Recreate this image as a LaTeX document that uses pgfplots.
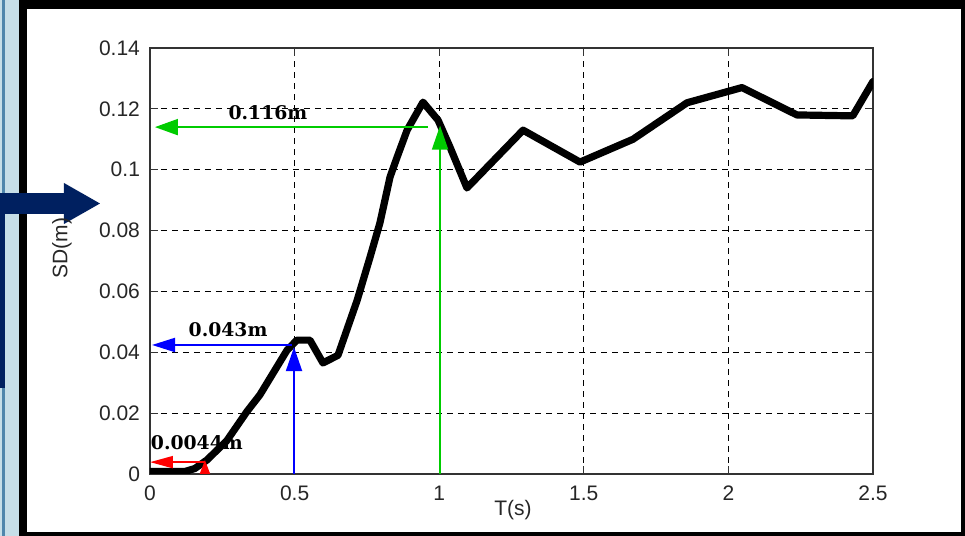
\documentclass[border=0pt]{standalone}
\usepackage{pgfplots}
\pgfplotsset{compat=1.18}
\usepackage{fontspec}
\setmainfont{Liberation Sans}
\newfontfamily\lblfont{DejaVu Serif}
\usetikzlibrary{arrows.meta}
\definecolor{navy}{HTML}{002060}
\definecolor{stripblue}{HTML}{C6DEE8}
\definecolor{stripdark}{HTML}{4F86AC}
\definecolor{mgreen}{RGB}{0,204,0}
\definecolor{mblue}{RGB}{0,0,255}
\definecolor{mred}{RGB}{255,0,0}
\begin{document}
\begin{tikzpicture}
% background frame
\fill[stripblue] (-75pt,-31pt) rectangle (-65.5pt,237pt);
\fill[stripdark] (-74pt,-31pt) rectangle (-72.5pt,237pt);
\fill[black] (-65.5pt,-31pt) rectangle (407.5pt,237pt);
\fill[white] (-61.5pt,-29pt) rectangle (405.5pt,232.5pt);
\fill[navy] (-75pt,130pt) rectangle (-43pt,140.5pt);
\fill[navy] (-43pt,145.5pt) -- (-25pt,135.25pt) -- (-43pt,125pt) -- cycle;
\fill[navy] (-75pt,43pt) rectangle (-72.5pt,140.5pt);
\begin{axis}[
  at={(0pt,0pt)}, anchor=south west,
  scale only axis, width=361.5pt, height=213pt,
  xmin=0, xmax=2.5, ymin=0, ymax=0.14,
  xtick={0,0.5,1,1.5,2,2.5},
  xticklabels={0,0.5,1,1.5,2,2.5},
  ytick={0,0.02,0.04,0.06,0.08,0.1,0.12,0.14},
  yticklabels={0,0.02,0.04,0.06,0.08,0.1,0.12,0.14},
  scaled y ticks=false, scaled x ticks=false,
  tick label style={font=\fontsize{10.5}{12}\selectfont, text=black!85},
  yticklabel style={xshift=-1.5pt},
  xticklabel style={yshift=-2.5pt},
  grid=major,
  major grid style={black, dash pattern=on 3pt off 2.5pt, line width=0.5pt},
  axis line style={black!80, line width=0.6pt},
  major tick length=4pt,
  tick style={black!80, line width=0.6pt},
  tick align=inside,
]
\addplot[black, line width=3.6pt, line join=round, line cap=round] coordinates {
(0,0.0008)(0.12,0.0008)(0.155,0.0018)(0.197,0.0046)(0.266,0.011)(0.335,0.0205)
(0.38,0.026)(0.474,0.0407)(0.508,0.044)(0.553,0.044)(0.598,0.0365)
(0.65,0.039)(0.716,0.057)(0.761,0.0713)(0.795,0.0825)(0.83,0.0976)(0.854,0.104)
(0.889,0.113)(0.944,0.1222)(0.996,0.1163)(1.037,0.1075)(1.096,0.094)(1.29,0.113)
(1.487,0.1025)(1.67,0.110)(1.857,0.122)(2.047,0.127)(2.237,0.118)(2.43,0.1177)(2.5,0.129)
};
% green annotation
\addplot[mgreen, line width=1pt, -{Triangle[length=11.5pt,width=8pt]}] coordinates {(0.962,0.114)(0.017,0.114)};
\addplot[mgreen, line width=1pt, -{Triangle[length=12pt,width=8pt]}] coordinates {(1.003,0)(1.003,0.1145)};
% blue annotation
\addplot[mblue, line width=1pt, -{Triangle[length=11.5pt,width=7pt]}] coordinates {(0.49,0.0424)(0.007,0.0424)};
\addplot[mblue, line width=1pt, -{Triangle[length=12pt,width=8pt]}] coordinates {(0.498,0)(0.498,0.0417)};
% red annotation
\addplot[mred, line width=1pt, -{Triangle[length=11.5pt,width=6pt]}] coordinates {(0.19,0.0039)(0.0,0.0039)};
\addplot[mred, line width=1pt, -{Triangle[length=7pt,width=5pt]}] coordinates {(0.19,0)(0.19,0.0046)};
\node[font=\lblfont\bfseries\fontsize{9.4}{11}\selectfont, inner sep=0pt] at (axis cs:0.408,0.1186) {0.116m};
\node[font=\lblfont\bfseries\fontsize{9.4}{11}\selectfont, inner sep=0pt] at (axis cs:0.27,0.0473) {0.043m};
\node[font=\lblfont\bfseries\fontsize{9.4}{11}\selectfont, inner sep=0pt] at (axis cs:0.162,0.0102) {0.0044m};
\end{axis}
\node[font=\fontsize{10.5}{12}\selectfont, rotate=90, text=black!85] at (-44pt,113pt) {SD(m)};
\node[font=\fontsize{10.5}{12}\selectfont, text=black!85] at (181.5pt,-18pt) {T(s)};
\end{tikzpicture}
\end{document}
